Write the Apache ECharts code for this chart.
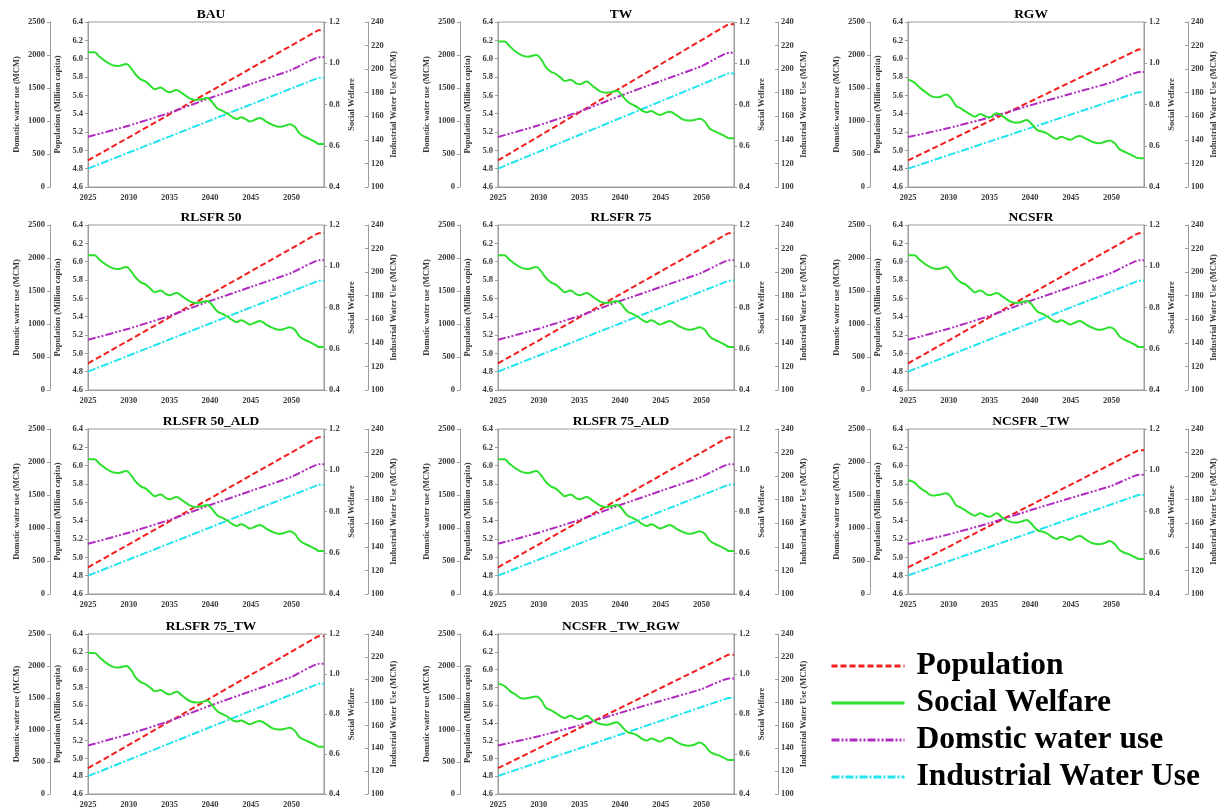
<!DOCTYPE html>
<html>
<head>
<meta charset="utf-8">
<title>Scenario panels</title>
<script src="https://cdn.jsdelivr.net/npm/echarts@6/dist/echarts.min.js"></script>
<style>
  html, body { margin: 0; padding: 0; background: #fff; }
  #chart { width: 1232px; height: 809px; }
</style>
</head>
<body>
<div id="chart"></div>
<script>
// ---- data ----
const panelTitles = ['BAU', 'TW', 'RGW', 'RLSFR 50', 'RLSFR 75', 'NCSFR',
  'RLSFR 50_ALD', 'RLSFR 75_ALD', 'NCSFR _TW', 'RLSFR 75_TW', 'NCSFR _TW_RGW'];
// which curve set each panel shows
const panelScenario = ['BAU', 'TW', 'RGW', 'BAU', 'BAU', 'BAU',
  'BAU', 'BAU', 'NCSFR_TW', 'TW', 'NCSFR_TW'];

const seriesNames = ['Population', 'Social Welfare', 'Domstic water use', 'Industrial Water Use'];
const axisNames = ['Population (Million capita)', 'Domstic water use (MCM)', 'Social Welfare', 'Industrial Water Use (MCM)'];
const xTicks = [2025, 2030, 2035, 2040, 2045, 2050];

// social welfare (wavy green line)
const welfareYears = [2025.0, 2025.8, 2026.4, 2027.2, 2028.0, 2028.7, 2029.7, 2030.3, 2030.9, 2031.5,
  2032.1, 2032.8, 2033.2, 2033.9, 2034.6, 2035.0, 2035.9, 2036.6, 2037.5, 2038.3,
  2038.9, 2039.6, 2040.1, 2040.9, 2041.6, 2042.2, 2042.8, 2043.3, 2043.8, 2044.4,
  2044.9, 2045.7, 2046.1, 2046.9, 2047.7, 2048.5, 2049.1, 2049.8, 2050.4, 2051.0,
  2051.6, 2052.2, 2053.0, 2053.4, 2054.0];
const welfareBAU = [1.053, 1.053, 1.032, 1.008, 0.991, 0.987, 0.996, 0.975, 0.943, 0.922,
  0.911, 0.886, 0.874, 0.882, 0.865, 0.859, 0.870, 0.854, 0.830, 0.822,
  0.825, 0.831, 0.819, 0.781, 0.768, 0.754, 0.738, 0.730, 0.738, 0.728,
  0.718, 0.730, 0.735, 0.717, 0.701, 0.692, 0.696, 0.704, 0.692, 0.660,
  0.644, 0.633, 0.617, 0.608, 0.608];
const welfareTW = [1.105, 1.105, 1.084, 1.056, 1.037, 1.032, 1.040, 1.019, 0.980, 0.959,
  0.948, 0.927, 0.914, 0.920, 0.903, 0.898, 0.911, 0.891, 0.865, 0.857,
  0.859, 0.867, 0.851, 0.814, 0.798, 0.785, 0.768, 0.762, 0.768, 0.757,
  0.749, 0.762, 0.765, 0.749, 0.728, 0.722, 0.725, 0.731, 0.717, 0.684,
  0.671, 0.660, 0.644, 0.636, 0.636];
const welfareRGW = [0.922, 0.906, 0.883, 0.859, 0.838, 0.835, 0.849, 0.830, 0.794, 0.781,
  0.765, 0.749, 0.741, 0.754, 0.741, 0.738, 0.757, 0.744, 0.720, 0.712,
  0.715, 0.725, 0.709, 0.676, 0.668, 0.657, 0.641, 0.633, 0.644, 0.636,
  0.629, 0.644, 0.647, 0.633, 0.618, 0.612, 0.618, 0.626, 0.612, 0.583,
  0.571, 0.560, 0.544, 0.539, 0.539];
const welfareNCSFRTW = [0.953, 0.940, 0.917, 0.896, 0.877, 0.880, 0.888, 0.869, 0.831, 0.819,
  0.804, 0.786, 0.780, 0.791, 0.778, 0.775, 0.791, 0.770, 0.751, 0.746,
  0.751, 0.759, 0.743, 0.710, 0.702, 0.691, 0.673, 0.667, 0.678, 0.670,
  0.662, 0.678, 0.681, 0.662, 0.646, 0.641, 0.646, 0.657, 0.642, 0.613,
  0.600, 0.592, 0.576, 0.570, 0.570];

// population and industrial use (straight lines, flat at the end)
const lineYears = [2025, 2053.3, 2054];
const popBAU = [4.89, 6.31, 6.31];
const popTW = [4.89, 6.375, 6.375];
const popRGW = [4.89, 6.10, 6.10];
const popNCSFRTW = [4.89, 6.167, 6.167];
const indBAU = [115.6, 192.6, 192.6];
const indTW = [115.6, 196.4, 196.4];
const indRGW = [115.6, 180.5, 180.5];
const indNCSFRTW = [115.8, 184.0, 184.0];

// domestic use (slightly bent)
const domYears = [2025, 2030, 2035, 2040, 2045, 2050, 2053.4, 2054];
const domBAU = [760, 929, 1123, 1348, 1561, 1773, 1965, 1965];
const domTW = [757, 935, 1140, 1380, 1606, 1830, 2035, 2035];
const domRGW = [757, 894, 1053, 1237, 1412, 1585, 1743, 1743];
const domNCSFRTW = [757, 903, 1072, 1268, 1454, 1638, 1806, 1806];

const scenarios = {
  BAU: { pop: popBAU, welfare: welfareBAU, dom: domBAU, ind: indBAU },
  TW: { pop: popTW, welfare: welfareTW, dom: domTW, ind: indTW },
  RGW: { pop: popRGW, welfare: welfareRGW, dom: domRGW, ind: indRGW },
  NCSFR_TW: { pop: popNCSFRTW, welfare: welfareNCSFRTW, dom: domNCSFRTW, ind: indNCSFRTW }
};

// ---- layout ----
const COL_X = [0, 410, 820];
const ROW_Y = [22, 225, 429, 634];
const PLOT_LEFT = 88, PLOT_W = 236, PLOT_H = 165;
const FONT = '"Liberation Serif", "DejaVu Serif", serif';
const AXIS_GRAY = '#9c9c9c';
const LABEL_COLOR = '#3a3a3a';
const COLORS = ['#f21d1d', '#2de02d', '#b02cc0', '#22e4ee'];
const DASHES = [[6, 3], 'solid', [8, 2, 2, 2, 2, 2], [8, 2, 2, 2]];

const labelStyle = { fontFamily: FONT, fontWeight: 'bold', fontSize: 8.5, color: LABEL_COLOR };
const nameStyle = { fontFamily: FONT, fontWeight: 'bold', fontSize: 8.5, color: LABEL_COLOR };

function pairs(xs, ys) {
  return xs.map(function (x, k) { return [x, ys[k]]; });
}

function yAxisDef(gi, pos, offset, min, max, interval, name, gap, fmt, inside, margin) {
  return {
    type: 'value', gridIndex: gi, position: pos, offset: offset,
    min: min, max: max, interval: interval,
    name: name, nameLocation: 'middle', nameRotate: 90, nameGap: gap,
    nameTextStyle: nameStyle,
    axisLine: { show: true, lineStyle: { color: AXIS_GRAY, width: 1 } },
    axisTick: { show: true, inside: inside, length: 3, lineStyle: { color: AXIS_GRAY } },
    axisLabel: Object.assign({ margin: margin, formatter: fmt }, labelStyle),
    splitLine: { show: false }
  };
}

const grids = [], xAxes = [], yAxes = [], titles = [], series = [];

panelTitles.forEach(function (title, i) {
  const col = i % 3, row = Math.floor(i / 3);
  const left = COL_X[col] + PLOT_LEFT, top = ROW_Y[row];
  grids.push({ left: left, top: top, width: PLOT_W, height: PLOT_H,
    show: true, borderColor: AXIS_GRAY, borderWidth: 1, backgroundColor: 'transparent' });
  titles.push({ text: title, left: left + PLOT_W / 2, top: top - 19, textAlign: 'center',
    textStyle: { fontFamily: FONT, fontWeight: 'bold', fontSize: 13.5, color: '#000' } });
  xAxes.push({
    type: 'value', gridIndex: i, min: 2025, max: 2054, interval: 5,
    axisLine: { show: true, lineStyle: { color: AXIS_GRAY, width: 1 } },
    axisTick: { show: false },
    axisLabel: Object.assign({ margin: 6, formatter: function (v) {
      return xTicks.indexOf(v) >= 0 ? String(v) : '';
    } }, labelStyle),
    splitLine: { show: false }
  });
  const yi = yAxes.length;
  yAxes.push(yAxisDef(i, 'left', 0, 4.6, 6.4, 0.2, axisNames[0], 26,
    function (v) { return v.toFixed(1); }, false, 5));
  yAxes.push(yAxisDef(i, 'left', 38, 0, 2500, 500, axisNames[1], 29,
    function (v) { return String(v); }, false, 5));
  yAxes.push(yAxisDef(i, 'right', 0, 0.4, 1.2, 0.2, axisNames[2], 23,
    function (v) { return v.toFixed(1); }, false, 5));
  yAxes.push(yAxisDef(i, 'right', 44, 100, 240, 20, axisNames[3], 21,
    function (v) { return String(v); }, true, 3));

  const s = scenarios[panelScenario[i]];
  const sets = [
    { data: pairs(lineYears, s.pop), axis: yi, smooth: false },
    { data: pairs(welfareYears, s.welfare), axis: yi + 2, smooth: 0.4 },
    { data: pairs(domYears, s.dom), axis: yi + 1, smooth: 0.15 },
    { data: pairs(lineYears, s.ind), axis: yi + 3, smooth: false }
  ];
  sets.forEach(function (d, k) {
    series.push({
      name: seriesNames[k], type: 'line', xAxisIndex: i, yAxisIndex: d.axis,
      data: d.data, smooth: d.smooth, symbol: 'none', animation: false,
      color: COLORS[k],
      lineStyle: { color: COLORS[k], width: 2, type: DASHES[k] },
      z: k === 1 ? 3 : 2
    });
  });
});

const chart = echarts.init(document.getElementById('chart'), null, { renderer: 'canvas' });
chart.setOption({
  backgroundColor: '#fff',
  animation: false,
  title: titles,
  grid: grids,
  xAxis: xAxes,
  yAxis: yAxes,
  legend: {
    orient: 'vertical', left: 825, top: 645,
    itemWidth: 73, itemHeight: 32, itemGap: 5,
    selectedMode: false,
    data: seriesNames,
    itemStyle: { opacity: 0 },
    lineStyle: { width: 3 },
    textStyle: { fontFamily: FONT, fontWeight: 'bold', fontSize: 31.5, color: '#000',
      lineHeight: 32, padding: [0, 0, 0, 7] }
  },
  series: series
});
window.addEventListener('resize', function () { chart.resize(); });
</script>
</body>
</html>
